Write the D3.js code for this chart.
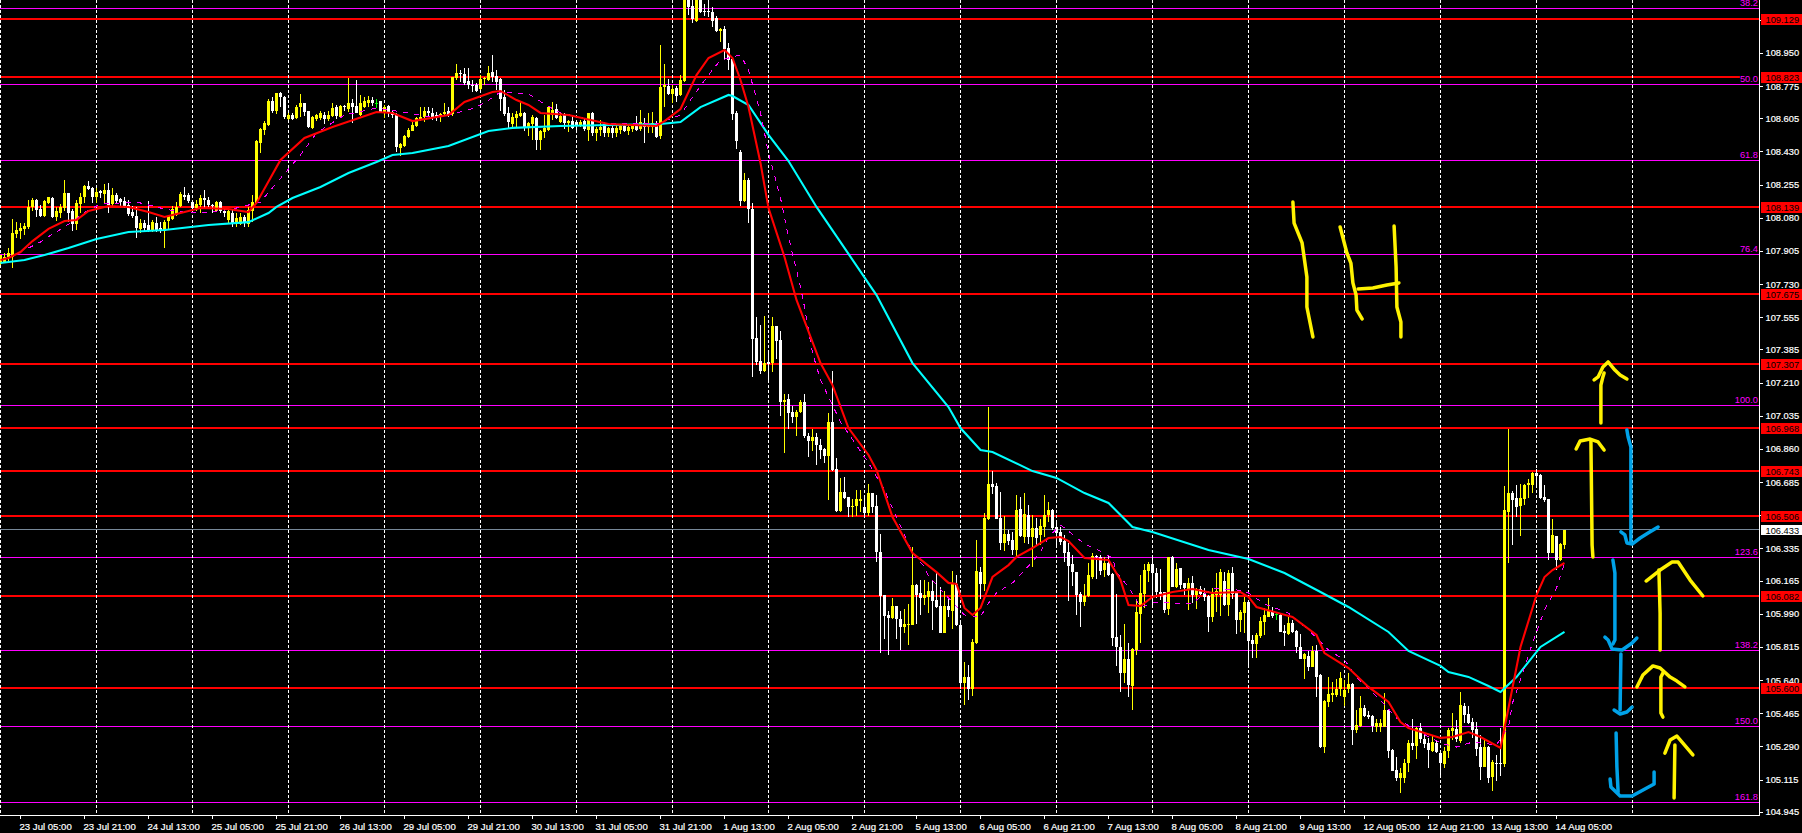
<!DOCTYPE html>
<html>
<head>
<meta charset="utf-8">
<script src="https://cdn.jsdelivr.net/npm/d3@7"></script>
<style>
html,body{margin:0;padding:0;background:#000;overflow:hidden}
svg{display:block;background:#000}
text{font-family:"Liberation Sans",Arial,sans-serif}
</style>
</head>
<body>
<div id="chart"></div>
<script>
const opens=[107.836,107.848,107.875,107.875,107.994,108.012,108.019,108.029,108.135,108.174,
108.124,108.089,108.160,108.184,108.082,108.107,108.131,108.209,108.117,108.047,
108.152,108.191,108.249,108.237,108.188,108.219,108.205,108.226,108.151,108.202,
108.177,108.170,108.147,108.112,108.089,108.019,108.054,108.042,108.015,108.054,
108.026,108.012,108.061,108.072,108.096,108.142,108.200,108.200,108.165,108.130,
108.147,108.182,108.174,108.147,108.117,108.163,108.117,108.068,108.107,108.047,
108.047,108.086,108.047,108.117,108.160,108.476,108.543,108.569,108.698,108.642,
108.736,108.715,108.599,108.622,108.606,108.666,108.684,108.642,108.554,108.603,
108.606,108.624,108.599,108.617,108.663,108.610,108.670,108.652,108.687,108.670,
108.622,108.666,108.684,108.701,108.687,108.694,108.634,108.670,108.638,108.627,
108.446,108.459,108.508,108.539,108.564,108.599,108.610,108.642,108.634,108.622,
108.610,108.627,108.643,108.627,108.816,108.846,108.839,108.803,108.782,108.782,
108.758,108.812,108.807,108.849,108.828,108.812,108.715,108.631,108.575,108.606,
108.617,108.634,108.555,108.575,108.606,108.490,108.534,108.543,108.622,108.652,
108.587,108.620,108.582,108.592,108.587,108.564,108.592,108.543,108.631,108.525,
108.543,108.575,108.525,108.554,108.525,108.543,108.564,108.539,108.550,108.569,
108.546,108.582,108.561,108.557,108.578,108.511,108.768,108.775,108.733,108.765,
108.728,108.803,109.247,109.197,109.120,109.247,109.173,109.173,109.166,109.132,
109.067,109.076,108.976,108.916,108.631,108.427,108.170,108.279,108.128,107.444,
107.322,107.273,107.319,107.312,107.509,107.435,107.109,107.123,107.053,107.027,
107.055,107.108,106.928,106.900,106.921,106.881,106.860,106.823,107.002,106.752,
106.534,106.633,106.608,106.552,106.559,106.585,106.552,106.520,106.626,106.559,
106.318,106.089,105.985,105.968,106.031,105.961,105.922,105.933,105.933,106.140,
106.098,106.073,106.080,106.108,106.063,106.031,105.890,106.031,106.007,106.147,
105.929,105.627,105.655,105.595,105.834,106.210,106.147,106.492,106.675,106.664,
106.495,106.362,106.411,106.379,106.327,106.541,106.393,106.511,106.393,106.443,
106.404,106.450,106.510,106.538,106.446,106.422,106.376,106.316,106.253,106.210,
106.094,106.052,106.084,106.186,106.295,106.292,106.221,106.256,106.200,105.869,
105.817,105.679,105.751,105.609,105.799,105.989,106.094,106.218,106.253,106.207,
106.107,106.105,106.017,106.288,106.133,106.230,106.151,106.116,106.154,106.089,
106.123,106.101,106.084,105.975,106.089,106.089,106.161,106.036,106.207,106.098,
105.957,105.992,106.054,105.852,105.831,105.873,105.948,105.975,106.007,105.989,
105.985,105.899,105.883,105.943,105.901,105.817,105.753,105.767,105.711,105.795,
105.665,105.285,105.524,105.561,105.561,105.591,105.553,105.591,105.619,105.377,
105.398,105.493,105.454,105.451,105.391,105.391,105.394,105.482,105.271,105.166,
105.122,105.122,105.201,105.310,105.292,105.386,105.328,105.310,105.268,105.310,
105.254,105.197,105.268,105.371,105.384,105.320,105.503,105.461,105.419,105.380,
105.289,105.183,105.289,105.127,105.204,105.204,105.197,106.529,106.626,106.601,
106.559,106.597,106.670,106.670,106.731,106.722,106.604,106.594,106.313,106.400,106.274,106.353];
const highs=[107.883,107.892,107.919,108.072,108.059,108.054,108.050,108.174,108.182,108.179,
108.147,108.174,108.191,108.191,108.138,108.152,108.279,108.212,108.124,108.174,
108.209,108.253,108.272,108.244,108.235,108.226,108.258,108.262,108.235,108.212,
108.182,108.191,108.174,108.142,108.138,108.072,108.068,108.168,108.068,108.086,
108.059,108.068,108.094,108.142,108.165,108.218,108.244,108.212,108.174,108.174,
108.200,108.226,108.188,108.152,108.167,108.167,108.124,108.128,108.124,108.103,
108.103,108.094,108.138,108.200,108.490,108.554,108.592,108.708,108.715,108.740,
108.745,108.722,108.631,108.634,108.673,108.733,108.687,108.645,108.617,108.627,
108.642,108.640,108.642,108.684,108.675,108.675,108.673,108.817,108.705,108.807,
108.728,108.719,108.722,108.715,108.705,108.698,108.677,108.675,108.649,108.631,
108.476,108.517,108.552,108.596,108.613,108.663,108.666,108.663,108.657,108.640,
108.634,108.684,108.666,108.824,108.891,108.860,108.868,108.868,108.807,108.789,
108.833,108.824,108.881,108.939,108.860,108.816,108.754,108.666,108.631,108.645,
108.693,108.638,108.587,108.622,108.613,108.543,108.622,108.666,108.691,108.680,
108.631,108.631,108.596,108.622,108.596,108.596,108.599,108.634,108.640,108.557,
108.596,108.582,108.561,108.578,108.569,108.575,108.575,108.569,108.575,108.617,
108.649,108.605,108.634,108.640,108.592,108.992,108.891,108.810,108.780,108.775,
108.833,109.335,109.264,109.247,109.264,109.264,109.208,109.238,109.190,109.145,
109.079,109.092,109.000,108.919,108.642,108.437,108.314,108.288,108.156,107.554,
107.514,107.561,107.364,107.558,107.509,107.484,107.150,107.150,107.087,107.065,
107.118,107.150,106.946,106.963,106.942,106.911,106.863,107.051,107.273,106.810,
106.707,106.714,106.608,106.594,106.643,106.643,106.608,106.675,106.629,106.615,
106.409,106.089,106.007,106.073,106.031,106.007,106.013,106.042,106.341,106.147,
106.168,106.168,106.159,106.168,106.210,106.130,106.108,106.077,106.214,106.193,
105.957,105.736,105.718,105.859,106.379,106.235,106.520,107.083,106.742,106.678,
106.633,106.506,106.432,106.423,106.619,106.608,106.626,106.564,106.511,106.494,
106.488,106.617,106.578,106.541,106.476,106.450,106.406,106.362,106.300,106.210,
106.107,106.147,106.256,106.313,106.298,106.300,106.288,106.295,106.203,106.094,
105.878,105.936,105.834,105.810,106.066,106.195,106.253,106.265,106.283,106.230,
106.225,106.107,106.292,106.295,106.260,106.232,106.151,106.179,106.189,106.124,
106.137,106.124,106.089,106.124,106.203,106.225,106.212,106.221,106.235,106.101,
106.010,106.080,106.063,105.878,105.887,105.975,106.019,106.072,106.028,106.001,
105.989,105.931,105.971,105.957,105.905,105.883,105.781,105.795,105.820,105.825,
105.672,105.535,105.658,105.632,105.644,105.685,105.641,105.679,105.623,105.482,
105.556,105.509,105.479,105.456,105.433,105.433,105.570,105.486,105.275,105.236,
105.175,105.222,105.324,105.433,105.391,105.416,105.351,105.333,105.351,105.324,
105.271,105.289,105.386,105.465,105.430,105.579,105.517,105.503,105.438,105.421,
105.351,105.328,105.292,105.218,105.245,105.386,106.664,106.963,106.636,106.670,
106.675,106.675,106.700,106.740,106.752,106.726,106.668,106.597,106.490,106.400,106.362,106.433];
const lows=[107.831,107.839,107.853,107.813,107.971,107.970,107.989,108.022,108.117,108.086,
108.082,108.086,108.152,108.077,108.065,108.077,108.117,108.059,108.012,108.015,
108.103,108.160,108.226,108.160,108.160,108.182,108.152,108.103,108.138,108.156,
108.135,108.130,108.089,108.077,107.971,107.998,108.007,108.007,108.007,108.007,
107.998,107.919,108.015,108.068,108.089,108.138,108.174,108.156,108.112,108.114,
108.103,108.124,108.135,108.103,108.110,108.103,108.086,108.050,108.033,108.029,
108.042,108.033,108.029,108.059,108.152,108.420,108.517,108.564,108.634,108.627,
108.666,108.603,108.596,108.596,108.603,108.613,108.617,108.554,108.546,108.592,
108.596,108.575,108.592,108.610,108.599,108.605,108.642,108.640,108.578,108.631,
108.617,108.657,108.666,108.670,108.657,108.631,108.605,108.610,108.605,108.429,
108.406,108.455,108.499,108.536,108.561,108.589,108.587,108.613,108.596,108.592,
108.587,108.617,108.613,108.617,108.807,108.798,108.780,108.758,108.745,108.744,
108.754,108.780,108.802,108.798,108.754,108.645,108.617,108.552,108.557,108.557,
108.610,108.539,108.511,108.490,108.437,108.437,108.499,108.539,108.596,108.599,
108.582,108.546,108.534,108.550,108.539,108.561,108.539,108.487,108.511,108.487,
108.511,108.508,108.504,108.499,108.504,108.522,108.534,108.518,108.532,108.539,
108.539,108.476,108.525,108.529,108.499,108.497,108.663,108.729,108.687,108.691,
108.722,108.798,109.150,109.106,109.115,109.159,109.145,109.141,109.085,109.060,
109.007,108.912,108.860,108.596,108.444,108.142,108.165,108.054,107.241,107.301,
107.255,107.266,107.210,107.266,107.333,107.034,106.840,106.963,106.999,106.928,
107.051,106.916,106.819,106.851,106.775,106.805,106.784,106.590,106.745,106.527,
106.529,106.597,106.499,106.499,106.506,106.527,106.510,106.506,106.520,106.265,
105.785,105.859,105.774,105.964,105.859,105.799,105.890,105.827,105.929,105.936,
105.985,106.036,105.992,105.905,106.021,105.889,105.889,105.975,105.912,105.926,
105.591,105.511,105.535,105.556,105.831,106.070,106.112,106.485,106.622,106.488,
106.327,106.323,106.353,106.300,106.288,106.393,106.362,106.358,106.235,106.353,
106.353,106.397,106.476,106.432,106.353,106.353,106.263,106.059,106.137,105.984,
105.922,106.031,106.077,106.175,106.175,106.195,106.186,106.189,105.820,105.715,
105.577,105.627,105.553,105.482,105.773,105.834,106.019,106.159,106.028,106.072,
106.063,105.992,105.984,106.130,106.124,106.119,106.089,106.010,106.045,106.013,
106.089,106.059,105.894,105.947,106.001,105.978,106.031,105.978,106.066,105.883,
105.896,105.887,105.711,105.755,105.755,105.860,105.878,105.971,105.966,105.957,
105.892,105.820,105.878,105.890,105.781,105.750,105.648,105.690,105.707,105.553,
105.282,105.257,105.500,105.526,105.553,105.556,105.503,105.570,105.299,105.359,
105.394,105.444,105.433,105.368,105.368,105.368,105.391,105.229,105.159,105.109,
105.043,105.099,105.157,105.271,105.222,105.306,105.280,105.175,105.262,105.254,
105.139,105.175,105.227,105.324,105.315,105.310,105.412,105.408,105.333,105.240,
105.113,105.180,105.095,105.057,105.109,105.134,105.183,106.260,106.353,106.502,
106.400,106.564,106.601,106.629,106.652,106.597,106.580,106.274,106.309,106.221,106.270,106.330];
const closes=[107.883,107.875,107.892,107.998,108.015,108.026,108.036,108.138,108.174,108.121,
108.089,108.168,108.188,108.082,108.117,108.138,108.209,108.107,108.047,108.160,
108.191,108.247,108.233,108.191,108.218,108.209,108.226,108.147,108.200,108.170,
108.163,108.138,108.100,108.089,108.026,108.054,108.024,108.015,108.059,108.015,
108.008,108.059,108.089,108.124,108.138,108.205,108.191,108.167,108.130,108.152,
108.182,108.174,108.145,108.142,108.163,108.114,108.103,108.114,108.047,108.077,
108.086,108.050,108.121,108.163,108.483,108.546,108.582,108.698,108.643,108.736,
108.715,108.610,108.622,108.603,108.666,108.684,108.640,108.561,108.610,108.620,
108.631,108.599,108.622,108.657,108.617,108.670,108.663,108.687,108.663,108.634,
108.684,108.698,108.701,108.687,108.687,108.640,108.666,108.634,108.622,108.452,
108.469,108.511,108.543,108.569,108.605,108.613,108.642,108.631,108.613,108.610,
108.627,108.640,108.622,108.821,108.846,108.839,108.793,108.779,108.775,108.751,
108.812,108.819,108.846,108.821,108.798,108.708,108.627,108.587,108.613,108.627,
108.631,108.552,108.578,108.610,108.490,108.536,108.552,108.663,108.649,108.606,
108.617,108.578,108.592,108.554,108.564,108.587,108.546,108.631,108.525,108.546,
108.561,108.525,108.552,108.525,108.552,108.564,108.539,108.561,108.564,108.543,
108.585,108.557,108.575,108.582,108.508,108.768,108.779,108.733,108.758,108.722,
108.807,109.282,109.194,109.127,109.247,109.167,109.167,109.166,109.120,109.067,
109.076,108.969,108.912,108.627,108.487,108.167,108.279,108.124,107.442,107.319,
107.273,107.312,107.308,107.509,107.431,107.109,107.118,107.051,107.030,107.057,
107.108,106.928,106.900,106.921,106.881,106.854,106.823,107.002,106.749,106.531,
106.633,106.601,106.552,106.559,106.594,106.594,106.520,106.626,106.555,106.314,
106.084,105.978,105.968,106.031,105.961,105.919,105.936,105.936,106.140,106.091,
106.073,106.087,106.108,106.059,106.024,105.890,106.031,106.010,106.151,105.929,
105.627,105.655,105.595,105.841,106.214,106.147,106.495,106.675,106.661,106.492,
106.362,106.411,106.372,106.327,106.538,106.400,106.517,106.393,106.443,106.388,
106.453,106.510,106.538,106.441,106.418,106.369,106.313,106.242,106.210,106.091,
106.052,106.084,106.195,106.295,106.288,106.218,106.260,106.195,105.862,105.817,
105.679,105.751,105.616,105.806,106.000,106.101,106.221,106.253,106.207,106.107,
106.094,106.010,106.288,106.133,106.228,106.144,106.124,106.154,106.089,106.116,
106.094,106.080,105.971,106.094,106.112,106.212,106.036,106.207,106.094,105.957,
106.001,106.054,105.848,105.831,105.878,105.954,105.984,106.005,105.978,105.989,
105.896,105.887,105.943,105.896,105.813,105.753,105.778,105.711,105.795,105.655,
105.285,105.528,105.567,105.570,105.591,105.649,105.588,105.619,105.377,105.403,
105.493,105.451,105.444,105.398,105.415,105.412,105.482,105.268,105.162,105.122,
105.152,105.201,105.306,105.292,105.386,105.328,105.303,105.271,105.315,105.261,
105.204,105.268,105.377,105.386,105.328,105.509,105.456,105.416,105.377,105.278,
105.183,105.289,105.123,105.210,105.197,105.197,106.538,106.626,106.590,106.552,
106.601,106.670,106.678,106.735,106.717,106.601,106.590,106.313,106.404,106.274,106.358,106.433];

const fastMA=[[0,107.857],[2,107.868],[5,107.899],[8,107.957],[12,108.021],[16,108.063],[19,108.068],[22,108.116],[27,108.142],[32,108.137],[37,108.110],[41,108.084],[45,108.105],[50,108.131],[57,108.126],[62,108.110],[64,108.158],[70,108.385],[76,108.501],[83,108.559],[94,108.638],[98,108.633],[103,108.590],[112,108.622],[116,108.691],[123,108.744],[125,108.749],[129,108.701],[132,108.675],[135,108.633],[142,108.622],[152,108.575],[164,108.564],[166,108.590],[170,108.654],[174,108.833],[177,108.923],[181,108.965],[183,108.923],[185,108.807],[187,108.664],[190,108.369],[192,108.131],[196,107.873],[199,107.646],[205,107.313],[208,107.197],[212,106.970],[217,106.828],[219,106.749],[223,106.501],[228,106.311],[234,106.210],[237,106.153],[239,106.147],[241,106.021],[243,105.984],[245,106.021],[248,106.184],[252,106.247],[254,106.290],[258,106.337],[262,106.390],[265,106.395],[267,106.374],[271,106.284],[277,106.274],[280,106.168],[282,106.036],[285,106.031],[288,106.079],[293,106.105],[298,106.121],[303,106.100],[310,106.105],[312,106.079],[314,106.026],[323,105.973],[329,105.878],[331,105.783],[337,105.704],[342,105.604],[347,105.525],[350,105.419],[352,105.387],[360,105.335],[363,105.340],[367,105.366],[370,105.340],[375,105.282],[377,105.493],[380,105.815],[384,106.089],[386,106.184],[388,106.221],[391,106.258]];
const slowMA=[[0,107.841],[6,107.857],[11,107.883],[17,107.920],[24,107.968],[32,108.005],[41,108.015],[52,108.042],[62,108.057],[67,108.105],[69,108.137],[73,108.184],[80,108.242],[87,108.316],[94,108.374],[98,108.411],[103,108.422],[112,108.459],[122,108.538],[128,108.554],[140,108.564],[165,108.575],[170,108.585],[175,108.664],[182,108.728],[183,108.722],[187,108.675],[192,108.517],[197,108.379],[204,108.137],[212,107.889],[219,107.672],[228,107.313],[237,107.081],[240,106.970],[245,106.854],[248,106.844],[258,106.743],[264,106.707],[271,106.627],[277,106.575],[283,106.448],[288,106.422],[302,106.327],[312,106.279],[321,106.205],[330,106.105],[337,106.026],[347,105.894],[352,105.794],[360,105.715],[362,105.683],[367,105.657],[372,105.609],[375,105.577],[379,105.656],[385,105.815],[391,105.894]];
const signalMA=[[7,107.920],[10,107.952],[13,107.994],[16,108.031],[22,108.121],[25,108.152],[34,108.163],[41,108.126],[47,108.105],[52,108.110],[58,108.126],[65,108.163],[69,108.263],[75,108.411],[79,108.527],[86,108.622],[94,108.659],[102,108.633],[107,108.612],[112,108.622],[117,108.649],[121,108.685],[125,108.744],[132,108.733],[136,108.680],[140,108.633],[152,108.575],[164,108.575],[170,108.622],[173,108.717],[177,108.833],[180,108.912],[185,108.939],[187,108.860],[190,108.633],[192,108.422],[195,108.184],[197,107.978],[200,107.715],[201,107.609],[203,107.366],[205,107.224],[210,107.002],[217,106.786],[221,106.643],[228,106.311],[231,106.237],[232,106.189],[237,106.073],[241,105.984],[245,105.973],[247,106.047],[249,106.100],[253,106.153],[257,106.242],[260,106.316],[262,106.395],[265,106.458],[267,106.427],[269,106.390],[272,106.348],[275,106.321],[278,106.284],[279,106.210],[282,106.131],[285,106.026],[289,106.052],[295,106.042],[298,106.047],[303,106.126],[309,106.116],[312,106.100],[316,106.042],[322,105.994],[327,105.904],[332,105.799],[336,105.746],[339,105.656],[345,105.535],[349,105.440],[353,105.387],[360,105.308],[364,105.287],[368,105.313],[374,105.298],[377,105.393],[378,105.519],[380,105.641],[383,105.836],[386,106.010],[389,106.126],[391,106.258]];

const supportResistance=[109.129,108.823,108.139,107.675,107.307,106.968,106.743,106.506,106.082,105.600];
const fibLevels=["38.2","50.0","61.8","76.4","100.0","123.6","138.2","150.0","161.8"];
const fibPrices=[109.186,108.784,108.382,107.886,107.087,106.288,105.794,105.393,104.992];
const lastPrice=106.433;
const priceTicks=[109.125,108.950,108.775,108.605,108.430,108.255,108.080,107.905,107.730,107.555,107.385,107.210,107.035,106.860,106.685,106.510,106.335,106.165,105.990,105.815,105.640,105.465,105.290,105.115,104.945];
const timeTicks=[5,21,37,53,69,85,101,117,133,149,165,181,197,213,229,245,261,277,293,309,325,341,357,373,389];
const timeLabels=["23 Jul 05:00","23 Jul 21:00","24 Jul 13:00","25 Jul 05:00","25 Jul 21:00","26 Jul 13:00","29 Jul 05:00","29 Jul 21:00","30 Jul 13:00","31 Jul 05:00","31 Jul 21:00","1 Aug 13:00","2 Aug 05:00","2 Aug 21:00","5 Aug 13:00","6 Aug 05:00","6 Aug 21:00","7 Aug 13:00","8 Aug 05:00","8 Aug 21:00","9 Aug 13:00","12 Aug 05:00","12 Aug 21:00","13 Aug 13:00","14 Aug 05:00"];
const daySeparators=[0,24,48,72,96,120,144,168,192,216,240,264,288,312,336,360,384,408];

const yellowInk=[
[[323.1,108.163],[323.4,108.052],[325.4,107.947],[326.6,107.767],[326.6,107.609],[328.1,107.451]],
[[334.9,108.031],[336.6,107.894],[337.6,107.841],[338.1,107.736],[338.9,107.672],[339.1,107.593],[340.4,107.546]],
[[348.4,108.036],[348.9,107.820],[349.1,107.609],[350.1,107.530],[350.1,107.451]],
[[339.4,107.704],[343.1,107.709],[346.6,107.725],[349.6,107.736]],
[[400.1,106.997],[400.1,107.197],[400.6,107.240],[400.9,107.261]],
[[398.4,107.224],[399.4,107.240],[400.6,107.292],[401.9,107.319],[403.6,107.276],[404.9,107.250],[406.6,107.229]],
[[398.1,106.290],[397.9,106.353],[397.6,106.907]],
[[393.9,106.860],[394.9,106.902],[397.4,106.912],[399.4,106.897],[400.9,106.854]],
[[414.9,105.799],[414.9,105.994],[414.6,106.221]],
[[411.4,106.163],[414.9,106.221],[417.9,106.263],[419.4,106.263],[422.4,106.168],[425.6,106.084]],
[[415.6,105.445],[415.1,105.466],[415.1,105.656],[415.6,105.677]],
[[409.1,105.604],[410.6,105.667],[413.1,105.715],[414.9,105.704],[417.4,105.656],[419.1,105.635],[421.1,105.604]],
[[418.4,105.018],[418.6,105.298]],
[[416.1,105.255],[417.4,105.324],[419.1,105.345],[420.6,105.308],[423.1,105.245]]];
const blueInk=[
[[406.6,106.960],[406.9,106.923],[407.6,106.870],[407.6,106.364]],
[[405.1,106.422],[406.1,106.406],[406.6,106.364],[407.9,106.358],[409.9,106.390],[411.9,106.416],[414.4,106.448]],
[[403.1,106.274],[403.6,106.205],[403.6,105.852],[403.1,105.831]],
[[401.1,105.867],[401.9,105.852],[402.9,105.804],[405.4,105.799],[407.9,105.836],[409.1,105.862]],
[[405.1,105.778],[404.9,105.482]],
[[403.4,105.482],[404.9,105.461],[406.6,105.472],[407.9,105.498]],
[[403.9,105.361],[404.1,105.181],[404.4,105.050]],
[[402.4,105.118],[402.6,105.076],[404.9,105.028],[407.9,105.028],[411.1,105.065],[413.4,105.092],[413.4,105.155]]];

const W=1802,H=833,plotR=1759.5,plotB=815;
const x=d3.scaleLinear().domain([0,440]).range([0.5,1760.5]);
const y=d3.scaleLinear().domain([109.229,104.929]).range([0,814.85]);
const svg=d3.select("#chart").append("svg").attr("width",W).attr("height",H);
svg.append("defs").append("clipPath").attr("id","plot").append("rect").attr("x",0).attr("y",0).attr("width",1759).attr("height",plotB);
const plot=svg.append("g").attr("clip-path","url(#plot)");

// fibonacci levels
plot.append("g").selectAll("line").data(fibPrices).join("line")
  .attr("x1",0).attr("x2",1759)
  .attr("y1",d=>Math.floor(y(d))+0.5).attr("y2",d=>Math.floor(y(d))+0.5)
  .attr("stroke","#ff00ff").attr("stroke-width",1).attr("shape-rendering","crispEdges");
// support / resistance
plot.append("g").selectAll("line").data(supportResistance).join("line")
  .attr("x1",0).attr("x2",1759)
  .attr("y1",d=>Math.round(y(d))).attr("y2",d=>Math.round(y(d)))
  .attr("stroke","#ff0000").attr("stroke-width",2).attr("shape-rendering","crispEdges");
// current price
plot.append("line").attr("x1",0).attr("x2",1759)
  .attr("y1",Math.floor(y(lastPrice))+0.5).attr("y2",Math.floor(y(lastPrice))+0.5)
  .attr("stroke","#778899").attr("stroke-width",1).attr("shape-rendering","crispEdges");
// day separators
plot.append("g").selectAll("line").data(daySeparators).join("line")
  .attr("x1",d=>x(d)).attr("x2",d=>x(d)).attr("y1",0).attr("y2",plotB)
  .attr("stroke","#fff").attr("stroke-width",1).attr("stroke-dasharray","3,2").attr("shape-rendering","crispEdges");

// candles
const bars=d3.range(opens.length);
const tone=i=>closes[i]>opens[i]?"#ffff00":closes[i]<opens[i]?"#ffffff":"#00ff00";
const cg=plot.append("g").attr("shape-rendering","crispEdges");
cg.selectAll("rect.w").data(bars).join("rect").attr("class","w")
  .attr("x",i=>x(i)-0.5).attr("width",1)
  .attr("y",i=>y(highs[i])).attr("height",i=>Math.max(1,y(lows[i])-y(highs[i])))
  .attr("fill",tone);
cg.selectAll("rect.b").data(bars).join("rect").attr("class","b")
  .attr("x",i=>x(i)-1.5).attr("width",3)
  .attr("y",i=>y(Math.max(opens[i],closes[i])))
  .attr("height",i=>Math.max(1,Math.abs(y(opens[i])-y(closes[i]))))
  .attr("fill",tone);

// moving averages
const lineGen=d3.line().x(d=>x(d[0])).y(d=>y(d[1]));
plot.append("path").attr("d",lineGen(slowMA)).attr("fill","none").attr("stroke","#00ffff").attr("stroke-width",2.1);
plot.append("path").attr("d",lineGen(signalMA)).attr("fill","none").attr("stroke","#ff00ff").attr("stroke-width",1).attr("stroke-dasharray","5,6").attr("shape-rendering","crispEdges");
plot.append("path").attr("d",lineGen(fastMA)).attr("fill","none").attr("stroke","#ff0000").attr("stroke-width",2.1);

// freehand ink
plot.append("g").selectAll("path").data(yellowInk).join("path").attr("d",lineGen)
  .attr("fill","none").attr("stroke","#fff200").attr("stroke-width",3.5).attr("stroke-linecap","round").attr("stroke-linejoin","round");
plot.append("g").selectAll("path").data(blueInk).join("path").attr("d",lineGen)
  .attr("fill","none").attr("stroke","#00a2e8").attr("stroke-width",3.5).attr("stroke-linecap","round").attr("stroke-linejoin","round");

// axes
const yAxis=d3.axisRight(y).tickValues(priceTicks).tickFormat(d3.format(".3f")).tickSize(3).tickSizeOuter(0).tickPadding(3).offset(0.5);
const ya=svg.append("g").attr("transform",`translate(${plotR},0)`).call(yAxis);
const xAxis=d3.axisBottom(x).tickValues(timeTicks).tickFormat((d,i)=>timeLabels[i]).tickSize(3).tickSizeOuter(0).tickPadding(3).offset(0);
const xa=svg.append("g").attr("transform",`translate(0,${plotB+0.5})`).call(xAxis);
xa.select(".domain").attr("d",`M0,0H${plotR}`);
ya.select(".domain").attr("d",`M0,0V${plotB}`);
[ya,xa].forEach(a=>{
  a.selectAll(".domain").attr("stroke","#fff").attr("shape-rendering","crispEdges");
  a.selectAll(".tick line").attr("stroke","#fff").attr("shape-rendering","crispEdges");
  a.selectAll("text").attr("fill","#fff").attr("stroke","#fff").attr("stroke-width",0.2).attr("font-family",'"Liberation Sans",Arial,sans-serif');
});
ya.selectAll("text").attr("font-size",9.3);
xa.selectAll("text").attr("font-size",9.6).attr("text-anchor","start").attr("dx",-1).attr("dy","0.85em");

// fibonacci labels, each on its own black patch
const fibG=svg.append("g").attr("clip-path","url(#plot)");
const fibItems=fibG.selectAll("g").data(fibLevels).join("g");
const fibText=fibItems.append("text").text(d=>d)
  .attr("x",1758).attr("y",(d,i)=>Math.floor(y(fibPrices[i]))-2)
  .attr("text-anchor","end").attr("font-size",9.3).attr("fill","#ff00ff");
fibItems.insert("rect","text").each(function(d,i){
  const b=fibText.nodes()[i].getBBox();
  d3.select(this).attr("x",b.x).attr("y",b.y+1).attr("width",b.width+1).attr("height",b.height-1).attr("fill","#000");
});

// level price tags
const tag=svg.append("g");
const tagY=d=>Math.round(y(d));
tag.selectAll("rect.red").data(supportResistance).join("rect").attr("class","red")
  .attr("x",1761).attr("width",41).attr("y",d=>tagY(d)-5.5).attr("height",11).attr("fill","#ff0000").attr("shape-rendering","crispEdges");
tag.selectAll("text.red").data(supportResistance).join("text").attr("class","red")
  .attr("x",1765.5).attr("y",d=>tagY(d)+3.5).attr("font-size",9.3).attr("fill","#000").text(d3.format(".3f"));
tag.append("rect").attr("x",1761).attr("width",41).attr("y",Math.round(y(lastPrice))-5).attr("height",10).attr("fill","#fff").attr("shape-rendering","crispEdges");
tag.append("text").attr("x",1765.5).attr("y",Math.round(y(lastPrice))+3.5).attr("font-size",9.3).attr("fill","#000").text(d3.format(".3f")(lastPrice));
</script>
</body>
</html>
